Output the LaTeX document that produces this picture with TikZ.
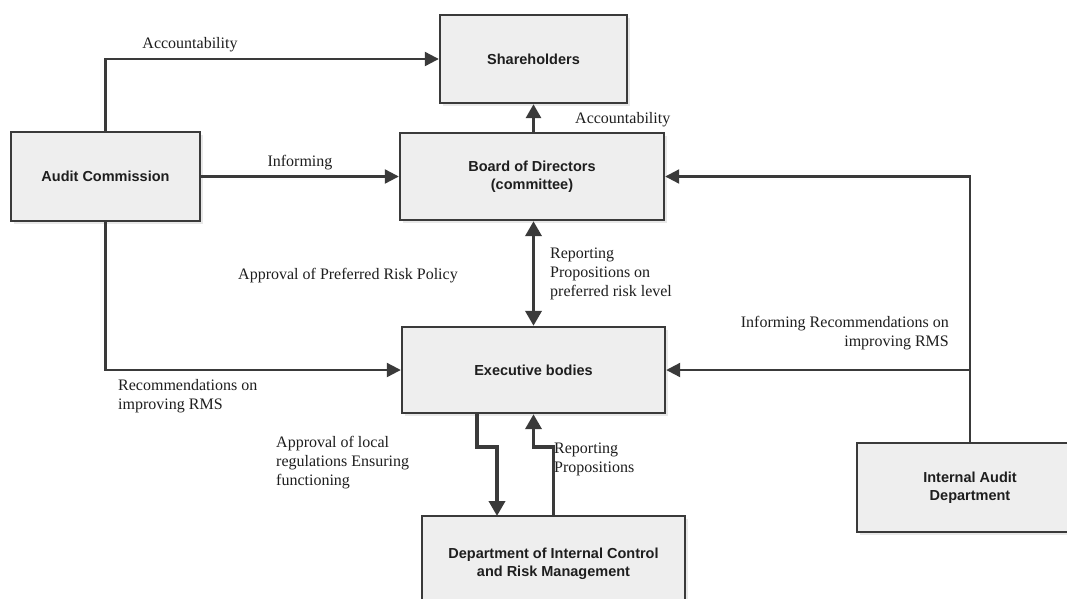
\documentclass[tikz,border=0pt]{standalone}
\usepackage{fontspec}
\setmainfont{Liberation Serif}
\setsansfont{Liberation Sans}
\usetikzlibrary{arrows.meta,shadows}
\definecolor{ln}{HTML}{3A3A3A}
\definecolor{bx}{HTML}{EEEEEE}
\definecolor{tx}{HTML}{1E1E1E}
\tikzset{
  box/.style={draw=ln, line width=2.4pt, fill=bx, inner sep=0pt, align=center,
    text=tx, font=\sffamily\bfseries\fontsize{14.5}{18}\selectfont,
    drop shadow={shadow xshift=3pt, shadow yshift=-3pt, opacity=0.18}},
  lbl/.style={inner sep=0pt, text=tx, font=\fontsize{16}{19}\selectfont},
  conn/.style={draw=ln, line width=2.2pt, -{Triangle[length=14pt,width=14pt]}},
  thickconn/.style={draw=ln, line width=3.6pt, -{Triangle[length=15pt,width=16pt]}},
}
\begin{document}
\begin{tikzpicture}[x=1pt,y=-1pt]
\useasboundingbox (0,0) rectangle (1067,598);
\clip (0,0) rectangle (1067,598);
\fill[white] (0,0) rectangle (1067,598);
% boxes
\node[box, minimum width=187pt, minimum height=88pt] (share) at (533.5,59) {Shareholders};
\node[box, minimum width=264pt, minimum height=87pt] (board) at (532,176.5) {Board of Directors\\(committee)};
\node[box, minimum width=189pt, minimum height=89pt] (audit) at (105.5,176.5) {Audit Commission};
\node[box, minimum width=263pt, minimum height=86pt] (exec) at (533.5,370) {Executive bodies};
\node[box, minimum width=263pt, minimum height=96pt] (dept) at (553.5,564) {Department of Internal Control\\and Risk Management};
\node[box, minimum width=226pt, minimum height=89pt] (ia) at (970,487.5) {Internal Audit\\Department};
% bend points
\coordinate (d1) at (477,413.5);
\coordinate (d2) at (477,447);
\coordinate (d3) at (497,447);
\coordinate (d4) at (497,516);
\coordinate (u1) at (553.5,516);
\coordinate (u2) at (553.5,447);
\coordinate (u3) at (533.5,447);
% connectors
\draw[conn] (audit.north) |- (share.west);
\draw[conn] (audit.east) -- (board.west);
\draw[conn] (audit.south) |- (exec.west);
\draw[draw=ln, line width=3pt, -{Triangle[length=14pt,width=15pt]}] (board.north -| share.south) -- (share.south);
\draw[thickconn, {Triangle[length=15pt,width=16pt]}-{Triangle[length=15pt,width=16pt]}] (board.south -| exec.north) -- (exec.north);
\draw[conn] (ia.north) |- (board.east);
\draw[conn] (ia.north) |- (exec.east);
\draw[thickconn] (d1) -- (d2) -- (d3) -- (d4);
\draw[thickconn] (u1) -- (u2) -- (u3) -- (exec.south);
% labels
\node[lbl] (l1) at (190,45) {Accountability};
\node[lbl] (l2) at (300,163) {Informing};
\node[lbl, anchor=west] (l3) at (575,120) {Accountability};
\node[lbl] (l4) at (348,276) {Approval of Preferred Risk Policy};
\node[lbl, anchor=west, align=left] (l5) at (550,274) {Reporting\\Propositions on\\preferred risk level};
\node[lbl, anchor=east, align=right] (l6) at (949,333) {Informing Recommendations on\\improving RMS};
\node[lbl, anchor=west, align=left] (l7) at (118,396) {Recommendations on\\improving RMS};
\node[lbl, anchor=west, align=left] (l8) at (276,463) {Approval of local\\regulations Ensuring\\functioning};
\node[lbl, anchor=west, align=left] (l9) at (554,459) {Reporting\\Propositions};
\end{tikzpicture}
\end{document}
